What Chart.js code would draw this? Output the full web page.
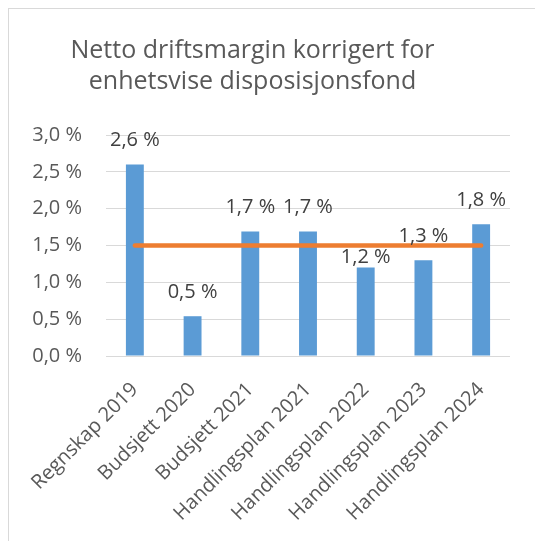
<!DOCTYPE html>
<html>
<head>
<meta charset="utf-8">
<script src="https://cdn.jsdelivr.net/npm/chart.js@4.4.1/dist/chart.umd.min.js"></script>
<style>
  html, body { margin: 0; padding: 0; background: #fff; overflow: hidden; }
  #wrap { position: relative; width: 535px; height: 541px; }
  #frame { position: absolute; left: 8px; top: 8px; width: 600px; height: 600px; border-left: 1px solid #d9d9d9; border-top: 1px solid #d9d9d9; }
  canvas { position: absolute; left: 0; top: 0; }
</style>
</head>
<body>
<div id="wrap">
  <div id="frame"></div>
  <canvas id="c" width="535" height="541"></canvas>
</div>
<script>
const titleLines = ["Netto driftsmargin korrigert for", "enhetsvise disposisjonsfond"];
const categories = ["Regnskap 2019", "Budsjett 2020", "Budsjett 2021", "Handlingsplan 2021", "Handlingsplan 2022", "Handlingsplan 2023", "Handlingsplan 2024"];
const marginValues = [2.6, 0.54, 1.69, 1.69, 1.2, 1.3, 1.79];
const targetValues = [1.5, 1.5, 1.5, 1.5, 1.5, 1.5, 1.5];
const yTicks = [0, 0.5, 1.0, 1.5, 2.0, 2.5, 3.0];

const FONT = "'Open Sans', 'Liberation Sans', sans-serif";
const fmt = v => v.toFixed(1).replace('.', ',') + ' %';

const labelPlugin = {
  id: 'barLabels',
  afterDatasetsDraw(chart, args, opts) {
    const ctx = chart.ctx;
    const meta = chart.getDatasetMeta(1);
    ctx.save();
    ctx.font = opts.size + "px " + FONT;
    ctx.fillStyle = '#404040';
    ctx.textAlign = 'center';
    ctx.textBaseline = 'middle';
    meta.data.forEach((bar, i) => {
      const off = (opts.offsets && opts.offsets[i] != null) ? opts.offsets[i] : opts.offset;
      ctx.fillText(fmt(chart.data.datasets[1].data[i]), bar.x, bar.y - off);
    });
    ctx.restore();
  }
};

const titleShift = {
  id: 'titleShift',
  afterLayout(chart, args, opts) {
    if (chart.titleBlock) {
      chart.titleBlock.left = opts.left;
      chart.titleBlock.right = opts.right;
    }
  }
};

new Chart(document.getElementById('c'), {
  type: 'bar',
  data: {
    labels: categories,
    datasets: [
      {
        type: 'line',
        data: targetValues,
        borderColor: '#ED7D31',
        borderWidth: 4.5,
        borderCapStyle: 'round',
        pointRadius: 0,
        order: 0
      },
      {
        type: 'bar',
        data: marginValues,
        backgroundColor: '#5B9BD5',
        barPercentage: 0.62,
        categoryPercentage: 0.5,
        order: 1
      }
    ]
  },
  options: {
    responsive: false,
    animation: false,
    events: [],
    layout: { padding: { top: 35, right: 25, left: 0, bottom: 0 } },
    plugins: {
      legend: { display: false },
      tooltip: { enabled: false },
      title: {
        display: true,
        text: titleLines,
        color: '#595959',
        font: { family: FONT, size: 25, weight: 'normal', lineHeight: 31/25 },
        padding: { top: 0, bottom: 38 }
      },
      barLabels: { size: 20, offset: 24, offsets: [null, null, null, null, 10, null, null] },
      titleShift: { left: 8, right: 497 }
    },
    scales: {
      x: {
        grid: { display: false },
        border: { display: false },
        ticks: {
          color: '#595959',
          font: { family: FONT, size: 20 },
          minRotation: 45,
          maxRotation: 45,
          padding: 14
        },
        afterFit(s) { s.height = 185; }
      },
      y: {
        min: 0,
        max: 3,
        afterBuildTicks(s) { s.ticks = yTicks.map(v => ({ value: v })); },
        grid: { color: '#d9d9d9', lineWidth: 1, drawTicks: false },
        border: { display: false },
        ticks: {
          color: '#595959',
          font: { family: FONT, size: 20 },
          padding: 24,
          callback: v => fmt(v)
        },
        afterFit(s) { s.width = 106; }
      }
    }
  },
  plugins: [labelPlugin, titleShift]
});
</script>
</body>
</html>
